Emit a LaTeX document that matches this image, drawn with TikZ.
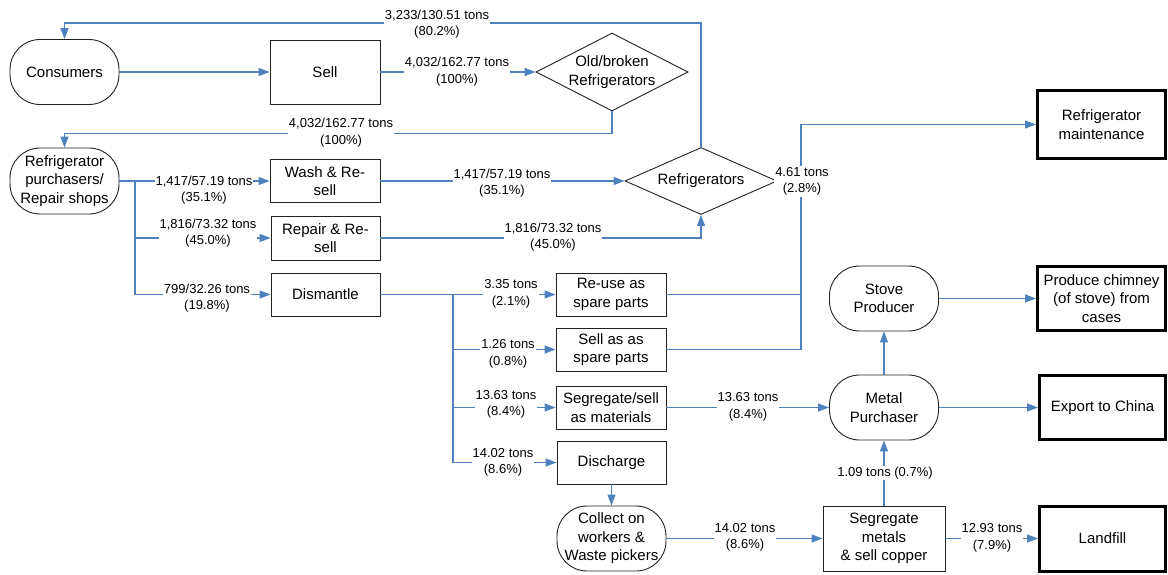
\documentclass[tikz,border=0pt]{standalone}
\usepackage{fontspec}
\setmainfont{Liberation Sans}
\usetikzlibrary{arrows.meta,shapes.geometric}
\definecolor{flowblue}{HTML}{4F81BD}
\definecolor{boxline}{HTML}{222222}
\begin{document}
\begin{tikzpicture}[x=1pt,y=-1pt,
  nodefont/.style={font=\fontsize{15}{18.5}\selectfont},
  box/.style={nodefont,draw=boxline,line width=0.9pt,rectangle,align=center,inner sep=2pt},
  endbox/.style={nodefont,draw=black,line width=3pt,rectangle,align=center,inner sep=2pt},
  stadium/.style={nodefont,draw=boxline,line width=0.9pt,rectangle,rounded corners=30pt,align=center,inner sep=2pt},
  dia/.style={draw=boxline,line width=0.9pt,diamond,inner sep=0pt},
  flowline/.style={draw=flowblue,line width=1.2pt},
  flow/.style={flowline,-{Triangle[length=11pt,width=8pt]}},
  lbl/.style={fill=white,font=\fontsize{13}{16.5}\selectfont,align=center,inner sep=1pt}]
\useasboundingbox (0,0) rectangle (1168,575);

% nodes
\node[stadium,minimum width=109pt,minimum height=65pt] (cons) at (64.5,72) {Consumers};
\node[box,minimum width=110pt,minimum height=64pt] (sell) at (325,72) {Sell};
\node[dia,minimum width=152pt,minimum height=78pt] (old) at (612,72) {};
\node[nodefont,align=center] (oldtxt) at (612,72) {Old/broken\\Refrigerators};
\node[stadium,minimum width=109pt,minimum height=66pt] (purch) at (64.5,181) {Refrigerator\\purchasers/\\Repair shops};
\node[box,minimum width=110pt,minimum height=43pt] (wash) at (325,181) {Wash \& Re-\\sell};
\node[box,minimum width=109pt,minimum height=44pt] (repair) at (325.5,238) {Repair \& Re-\\sell};
\node[box,minimum width=109pt,minimum height=43pt] (dism) at (325.5,294.5) {Dismantle};
\node[dia,minimum width=152pt,minimum height=67pt] (ref) at (701,181) {};
\node[nodefont] (reftxt) at (701,181) {Refrigerators};
\node[endbox,minimum width=128pt,minimum height=68pt] (maint) at (1101.5,124.5) {Refrigerator\\maintenance};
\node[box,minimum width=110pt,minimum height=43pt] (reuse) at (611,294.5) {Re-use as\\spare parts};
\node[box,minimum width=110pt,minimum height=43pt] (sellas) at (611,349.5) {Sell as as\\spare parts};
\node[box,minimum width=110pt,minimum height=43pt] (segm) at (611,407.5) {Segregate/sell\\as materials};
\node[box,minimum width=109pt,minimum height=43pt] (disch) at (611.5,462.5) {Discharge};
\node[stadium,minimum width=109pt,minimum height=65pt] (coll) at (611.5,538.5) {Collect on\\workers \&\\Waste pickers};
\node[stadium,minimum width=109pt,minimum height=65pt] (stove) at (884,298.5) {Stove\\Producer};
\node[endbox,minimum width=128pt,minimum height=64pt] (chim) at (1101.5,298.5) {Produce chimney\\(of stove) from\\cases};
\node[stadium,minimum width=109pt,minimum height=65pt] (metal) at (884,407.5) {Metal\\Purchaser};
\node[endbox,minimum width=126pt,minimum height=64pt] (export) at (1102.5,407.5) {Export to China};
\node[box,minimum width=122pt,minimum height=65pt] (segmet) at (884,538.5) {Segregate\\metals\\\& sell copper};
\node[endbox,minimum width=126pt,minimum height=65pt] (land) at (1102.5,538.5) {Landfill};

% junctions
\coordinate (b1) at (135,181);
\coordinate (b2) at (453,294.5);
\coordinate (j1) at (801,124.5);
\coordinate (j2) at (801,294.5);

% connectors
\draw[flow] (cons) -- (sell);
\draw[flow] (sell) -- (old);
\draw[flow] (old.south) -- ++(0,22) -| (purch.north);
\draw[flow] (ref.north) -- ++(0,-124) -| (cons.north);
\draw[flowline] (purch.east) -- (b1);
\draw[flow] (b1) -- (wash);
\draw[flow] (b1) |- (repair.west);
\draw[flow] (b1) |- (dism.west);
\draw[flow] (wash) -- (ref);
\draw[flow] (repair.east) -| (ref.south);
\draw[flow] (dism) -- (reuse);
\draw[flow] (b2) |- (sellas.west);
\draw[flow] (b2) |- (segm.west);
\draw[flow] (b2) |- (disch.west);
\draw[flowline] (reuse.east) -- (j2);
\draw[flowline] (sellas.east) -| (j2);
\draw[flow] (j2) -- (j1) -- (maint.west);
\draw[flow] (segm) -- (metal);
\draw[flow] (disch) -- (coll);
\draw[flow] (coll) -- (segmet);
\draw[flow] (segmet) -- (metal);
\draw[flow] (segmet) -- (land);
\draw[flow] (metal) -- (stove);
\draw[flow] (metal) -- (export);
\draw[flow] (stove) -- (chim);

% labels
\node[lbl] (l1) at (437,24) {3,233/130.51 tons\\(80.2\%)};
\node[lbl] (l2) at (457,71.5) {4,032/162.77 tons\\(100\%)};
\node[lbl] (l3) at (341,132.5) {4,032/162.77 tons\\(100\%)};
\node[lbl] (l4) at (204,190) {1,417/57.19 tons\\(35.1\%)};
\node[lbl] (l5) at (208,233) {1,816/73.32 tons\\(45.0\%)};
\node[lbl] (l6) at (207,298) {799/32.26 tons\\(19.8\%)};
\node[lbl] (l7) at (502,183) {1,417/57.19 tons\\(35.1\%)};
\node[lbl] (l8) at (553,237) {1,816/73.32 tons\\(45.0\%)};
\node[lbl] (l9) at (802,181.5) {4.61 tons\\(2.8\%)};
\node[lbl] (l10) at (511,294) {3.35 tons\\(2.1\%)};
\node[lbl] (l11) at (508,354) {1.26 tons\\(0.8\%)};
\node[lbl] (l12) at (506,404.5) {13.63 tons\\(8.4\%)};
\node[lbl] (l13) at (503,462.5) {14.02 tons\\(8.6\%)};
\node[lbl] (l14) at (748,407) {13.63 tons\\(8.4\%)};
\node[lbl] (l15) at (745,537.5) {14.02 tons\\(8.6\%)};
\node[lbl] (l16) at (885,473) {1.09 tons (0.7\%)};
\node[lbl] (l17) at (992,538) {12.93 tons\\(7.9\%)};
\end{tikzpicture}
\end{document}
